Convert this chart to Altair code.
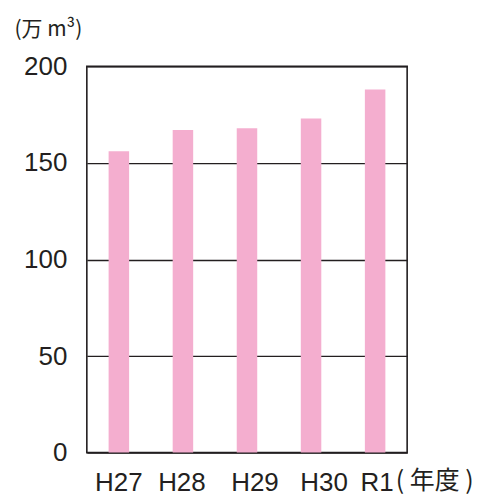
import altair as alt
import pandas as pd

years = ["H27", "H28", "H29", "H30", "R1"]
values = [156, 167, 168, 173, 188]
y_ticks = [0, 50, 100, 150, 200]

df = pd.DataFrame({"year": years, "value": values})

FONT = "'Liberation Sans', Arial, 'Noto Sans CJK JP', sans-serif"
INK = "#231f20"

label_shift = {
    "condition": [
        {"test": "datum.value == 'H28'", "value": -1},
        {"test": "datum.value == 'H29'", "value": 8},
        {"test": "datum.value == 'H30'", "value": 13},
        {"test": "datum.value == 'R1'", "value": 2},
    ],
    "value": 0,
}

chart = alt.Chart(df).mark_bar(color="#f4aecf").encode(
    x=alt.X(
        "year:N",
        sort=years,
        scale=alt.Scale(paddingInner=0.68, paddingOuter=0.34),
        axis=alt.Axis(
            title="( 年度 )",
            titleFont="'Noto Sans CJK JP', sans-serif",
            titleFontSize=25,
            titleFontWeight="normal",
            titleColor=INK,
            titleAngle=0,
            titleAlign="left",
            titleBaseline="alphabetic",
            titleX=309,
            titleY=36,
            labelAngle=0,
            labelFont=FONT,
            labelFontSize=26,
            labelColor=INK,
            labelPadding=17,
            labelOffset=label_shift,
            ticks=False,
            domain=False,
        ),
    ),
    y=alt.Y(
        "value:Q",
        scale=alt.Scale(domain=[0, 200], nice=False),
        axis=alt.Axis(
            values=y_ticks,
            title="(万 m³)",
            titleFont="'Noto Sans CJK JP', sans-serif",
            titleFontSize=21,
            titleFontWeight="normal",
            titleColor=INK,
            titleAngle=0,
            titleAlign="left",
            titleBaseline="alphabetic",
            titleX=-73,
            titleY=-31,
            labelFont=FONT,
            labelFontSize=26,
            labelColor=INK,
            labelPadding=20,
            ticks=False,
            domain=False,
            grid=True,
            gridColor=INK,
            gridWidth=1.3,
            gridOpacity=1,
        ),
    ),
).properties(
    width=321,
    height=387,
    autosize=alt.AutoSizeParams(type="none"),
    padding={"left": 79, "top": 58, "right": 70, "bottom": 50},
).configure_view(
    stroke=INK,
    strokeWidth=1.6,
)

chart.save("out.html", embed_options={"renderer": "svg", "actions": False})
